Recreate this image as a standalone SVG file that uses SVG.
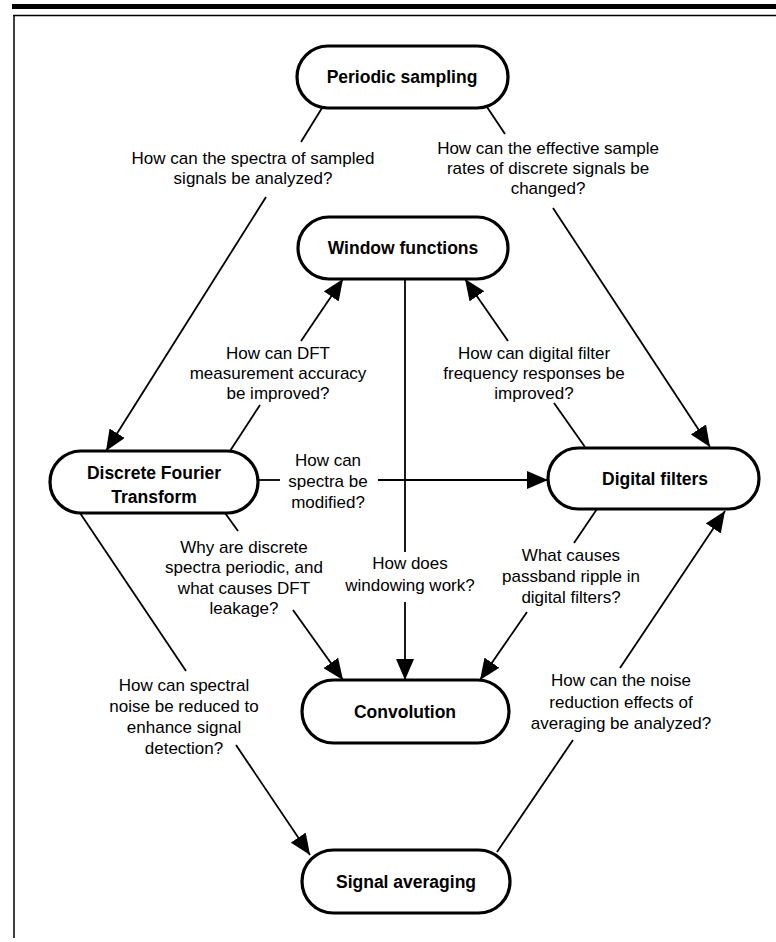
<svg xmlns="http://www.w3.org/2000/svg" width="776" height="942" viewBox="0 0 776 942">
<defs>
<marker id="ah" viewBox="0 0 21 18" refX="21" refY="9" markerWidth="21" markerHeight="18" markerUnits="userSpaceOnUse" orient="auto">
<path d="M0,0 L21,9 L0,18 z" fill="#000"/>
</marker>
</defs>
<style>
.node{fill:#fff;stroke:#000;stroke-width:3.2}
.nt{font-family:"Liberation Sans",Arial,sans-serif;font-weight:bold;font-size:17.5px;text-anchor:middle;fill:#000}
.lt{font-family:"Liberation Sans",Arial,sans-serif;font-size:17px;text-anchor:middle;fill:#000}
.c{stroke:#000;stroke-width:1.8;fill:none}
.ca{stroke:#000;stroke-width:1.8;fill:none;marker-end:url(#ah)}
</style>
<rect width="776" height="942" fill="#fff"/>
<g id="frame">
<rect x="12" y="4" width="764" height="5" fill="#000"/>
<line x1="13" y1="15.5" x2="776" y2="15.5" stroke="#000" stroke-width="1.5"/>
<line x1="14" y1="15" x2="14" y2="938" stroke="#000" stroke-width="1.5"/>
</g>
<g id="connectors">
<line class="c" x1="322" y1="108" x2="301" y2="142"/>
<line class="ca" x1="266" y1="197" x2="106" y2="451"/>
<line class="c" x1="487" y1="107" x2="505" y2="134"/>
<line class="ca" x1="553" y1="208" x2="710" y2="447"/>
<line class="c" x1="230" y1="451" x2="260" y2="405"/>
<line class="ca" x1="301" y1="341" x2="343" y2="279"/>
<line class="c" x1="585" y1="447" x2="554" y2="403"/>
<line class="ca" x1="508" y1="341" x2="465" y2="279"/>
<line class="c" x1="258" y1="480" x2="280" y2="480"/>
<line class="ca" x1="378" y1="480" x2="548" y2="480"/>
<line class="c" x1="405" y1="279" x2="405" y2="552"/>
<line class="ca" x1="405" y1="602" x2="405" y2="680"/>
<line class="c" x1="225" y1="513" x2="238" y2="531"/>
<line class="ca" x1="293" y1="610" x2="343" y2="680"/>
<line class="c" x1="597" y1="509" x2="574" y2="543"/>
<line class="ca" x1="527" y1="612" x2="480" y2="680"/>
<line class="c" x1="80" y1="513" x2="186" y2="671"/>
<line class="ca" x1="236" y1="745" x2="310" y2="855"/>
<line class="c" x1="497" y1="852" x2="573" y2="740"/>
<line class="ca" x1="620" y1="668" x2="725" y2="511"/>
</g>
<g id="labels">
<text class="lt" x="253" y="164">How can the spectra of sampled</text>
<text class="lt" x="253" y="184">signals be analyzed?</text>
<text class="lt" x="548" y="154">How can the effective sample</text>
<text class="lt" x="548" y="174">rates of discrete signals be</text>
<text class="lt" x="548" y="194">changed?</text>
<text class="lt" x="278" y="359">How can DFT</text>
<text class="lt" x="278" y="379">measurement accuracy</text>
<text class="lt" x="278" y="399">be improved?</text>
<text class="lt" x="534" y="359">How can digital filter</text>
<text class="lt" x="534" y="379">frequency responses be</text>
<text class="lt" x="534" y="399">improved?</text>
<text class="lt" x="328" y="466">How can</text>
<text class="lt" x="328" y="487">spectra be</text>
<text class="lt" x="328" y="508">modified?</text>
<text class="lt" x="410" y="569">How does</text>
<text class="lt" x="410" y="591">windowing work?</text>
<text class="lt" x="244" y="553">Why are discrete</text>
<text class="lt" x="244" y="573">spectra periodic, and</text>
<text class="lt" x="244" y="594">what causes DFT</text>
<text class="lt" x="244" y="614">leakage?</text>
<text class="lt" x="571" y="561">What causes</text>
<text class="lt" x="571" y="582">passband ripple in</text>
<text class="lt" x="571" y="603">digital filters?</text>
<text class="lt" x="184" y="691">How can spectral</text>
<text class="lt" x="184" y="712">noise be reduced to</text>
<text class="lt" x="184" y="733">enhance signal</text>
<text class="lt" x="184" y="754">detection?</text>
<text class="lt" x="621" y="686">How can the noise</text>
<text class="lt" x="621" y="708">reduction effects of</text>
<text class="lt" x="621" y="729">averaging be analyzed?</text>
</g>
<g id="periodic-sampling">
<rect class="node" x="297" y="46" width="211" height="62" rx="31"/>
<text class="nt" x="402" y="83">Periodic sampling</text>
</g>
<g id="window-functions">
<rect class="node" x="298" y="217" width="210" height="62" rx="31"/>
<text class="nt" x="403" y="254">Window functions</text>
</g>
<g id="dft">
<rect class="node" x="50" y="451" width="208" height="62" rx="31"/>
<text class="nt" x="154" y="479">Discrete Fourier</text>
<text class="nt" x="154" y="503">Transform</text>
</g>
<g id="digital-filters">
<rect class="node" x="548" y="448" width="211" height="61" rx="30.5"/>
<text class="nt" x="655" y="485">Digital filters</text>
</g>
<g id="convolution">
<rect class="node" x="302" y="680" width="207" height="63" rx="31.5"/>
<text class="nt" x="405" y="718">Convolution</text>
</g>
<g id="signal-averaging">
<rect class="node" x="302" y="850" width="208" height="63" rx="31.5"/>
<text class="nt" x="406" y="888">Signal averaging</text>
</g>
</svg>
